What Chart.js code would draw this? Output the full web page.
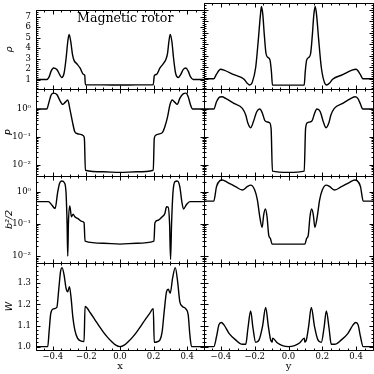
<!DOCTYPE html>
<html>
<head>
<meta charset="utf-8">
<script src="https://cdn.jsdelivr.net/npm/chart.js@4.4.1/dist/chart.umd.min.js"></script>
<style>
  html, body { margin: 0; padding: 0; background: #fff; }
  #fig { position: relative; width: 374px; height: 374px; overflow: hidden; }
  #fig canvas { position: absolute; left: 0; top: 0; }
  #title { position: absolute; left: 77px; top: 12px; font-family: "DejaVu Serif", serif; font-size: 12.6px; line-height: 12px; white-space: nowrap; color: #000; }
</style>
</head>
<body>
<div id="fig">
  <canvas id="c0" width="374" height="374"></canvas>
  <canvas id="c1" width="374" height="374"></canvas>
  <canvas id="c2" width="374" height="374"></canvas>
  <canvas id="c3" width="374" height="374"></canvas>
  <canvas id="c4" width="374" height="374"></canvas>
  <canvas id="c5" width="374" height="374"></canvas>
  <canvas id="c6" width="374" height="374"></canvas>
  <canvas id="c7" width="374" height="374"></canvas>
  <div id="title">Magnetic rotor</div>
</div>
<script>
/* 데이터: 각 패널 곡선 (위치 / 값) */
// rho along x
const rhoXPos = [-0.5, -0.436, -0.422, -0.41, -0.396, -0.376, -0.36, -0.347, -0.333, -0.321, -0.311, -0.303, -0.293, -0.283, -0.273, -0.257, -0.238, -0.218, -0.21, -0.206, -0.1, 0, 0.1, 0.198, 0.204, 0.218, 0.238, 0.257, 0.273, 0.283, 0.291, 0.299, 0.309, 0.319, 0.331, 0.347, 0.362, 0.376, 0.392, 0.406, 0.42, 0.436, 0.5];
const rhoXVal = [1.0, 1.0, 1.25, 1.8, 2.1, 1.95, 1.5, 1.2, 1.6, 3.0, 4.6, 5.3, 4.6, 3.4, 2.8, 2.5, 2.1, 1.5, 1.4, 0.5, 0.49, 0.48, 0.49, 0.5, 1.35, 1.5, 2.1, 2.5, 2.9, 3.5, 4.6, 5.3, 4.6, 3.0, 1.6, 1.2, 1.5, 1.95, 2.1, 1.8, 1.25, 1.0, 1.0];
// rho along y
const rhoYPos = [-0.5, -0.442, -0.426, -0.402, -0.382, -0.323, -0.263, -0.244, -0.23, -0.214, -0.194, -0.178, -0.166, -0.16, -0.152, -0.143, -0.133, -0.121, -0.109, -0.101, -0.095, 0, 0.093, 0.099, 0.107, 0.119, 0.131, 0.141, 0.15, 0.158, 0.166, 0.178, 0.194, 0.212, 0.226, 0.242, 0.261, 0.321, 0.376, 0.4, 0.424, 0.44, 0.5];
const rhoYVal = [1.0, 1.0, 1.4, 1.82, 1.75, 1.35, 0.95, 0.6, 0.45, 0.7, 2.0, 4.5, 6.6, 7.3, 6.6, 4.8, 3.2, 2.85, 2.6, 1.6, 0.45, 0.44, 0.45, 1.6, 2.6, 2.85, 3.2, 4.8, 6.6, 7.3, 6.6, 4.5, 2.0, 0.7, 0.45, 0.6, 0.95, 1.35, 1.75, 1.82, 1.4, 1.0, 1.0];
// P along x
const presXPos = [-0.5, -0.436, -0.422, -0.41, -0.396, -0.376, -0.356, -0.341, -0.327, -0.311, -0.297, -0.283, -0.269, -0.253, -0.234, -0.218, -0.212, -0.206, -0.1, 0, 0.1, 0.198, 0.204, 0.214, 0.234, 0.253, 0.267, 0.283, 0.297, 0.311, 0.327, 0.341, 0.356, 0.376, 0.392, 0.406, 0.42, 0.432, 0.5];
const presXVal = [1.0, 1.0, 1.83, 3.16, 3.7, 3.3, 1.93, 1.47, 1.73, 2.1, 0.92, 0.35, 0.155, 0.132, 0.125, 0.112, 0.09, 0.0066, 0.0058, 0.0055, 0.0058, 0.0066, 0.09, 0.118, 0.13, 0.147, 0.234, 0.53, 1.39, 2.1, 1.73, 1.47, 2.4, 3.5, 3.7, 2.75, 1.39, 1.0, 1.0];
// P along y
const presYPos = [-0.5, -0.442, -0.426, -0.406, -0.392, -0.372, -0.323, -0.273, -0.253, -0.24, -0.224, -0.208, -0.188, -0.17, -0.154, -0.141, -0.129, -0.113, -0.103, -0.095, 0, 0.093, 0.101, 0.113, 0.129, 0.141, 0.154, 0.168, 0.188, 0.206, 0.222, 0.238, 0.251, 0.271, 0.321, 0.37, 0.394, 0.41, 0.424, 0.44, 0.5];
const presYVal = [1.0, 1.0, 1.83, 2.7, 2.75, 2.4, 1.6, 1.06, 0.61, 0.31, 0.215, 0.35, 0.8, 1.0, 0.7, 0.4, 0.35, 0.33, 0.2, 0.0061, 0.0055, 0.0061, 0.2, 0.33, 0.35, 0.4, 0.7, 1.0, 0.8, 0.35, 0.215, 0.31, 0.61, 1.06, 1.6, 2.4, 2.75, 2.4, 1.6, 1.0, 1.0];
// b^2/2 along x
const magXPos = [-0.5, -0.426, -0.406, -0.386, -0.372, -0.36, -0.347, -0.331, -0.321, -0.315, -0.311, -0.307, -0.299, -0.289, -0.279, -0.269, -0.25, -0.228, -0.214, -0.208, -0.1, 0, 0.1, 0.202, 0.208, 0.228, 0.251, 0.267, 0.277, 0.287, 0.295, 0.301, 0.307, 0.315, 0.327, 0.341, 0.356, 0.368, 0.378, 0.396, 0.416, 0.5];
const magXVal = [0.49, 0.49, 0.385, 0.3, 0.89, 1.8, 2.14, 1.9, 0.89, 0.104, 0.01, 0.104, 0.36, 0.167, 0.2, 0.167, 0.145, 0.12, 0.109, 0.029, 0.025, 0.0236, 0.025, 0.029, 0.109, 0.13, 0.167, 0.21, 0.34, 0.33, 0.104, 0.0079, 0.104, 0.89, 2.05, 2.14, 1.43, 0.49, 0.29, 0.4, 0.49, 0.49];
// b^2/2 along y
const magYPos = [-0.5, -0.442, -0.426, -0.406, -0.392, -0.362, -0.313, -0.273, -0.244, -0.224, -0.2, -0.184, -0.17, -0.156, -0.147, -0.137, -0.127, -0.117, -0.107, -0.097, 0, 0.097, 0.107, 0.117, 0.127, 0.137, 0.147, 0.156, 0.17, 0.184, 0.2, 0.224, 0.244, 0.273, 0.313, 0.362, 0.392, 0.406, 0.426, 0.442, 0.5];
const magYVal = [0.51, 0.51, 1.43, 2.2, 2.3, 1.95, 1.43, 1.13, 1.43, 1.6, 1.13, 0.55, 0.167, 0.078, 0.188, 0.29, 0.167, 0.045, 0.035, 0.0236, 0.0236, 0.0236, 0.035, 0.045, 0.167, 0.29, 0.188, 0.078, 0.167, 0.55, 1.13, 1.6, 1.43, 1.13, 1.43, 1.95, 2.3, 2.2, 1.43, 0.51, 0.51];
// W along x
const lorXPos = [-0.5, -0.43, -0.422, -0.412, -0.396, -0.376, -0.364, -0.354, -0.345, -0.333, -0.321, -0.311, -0.301, -0.291, -0.281, -0.269, -0.253, -0.234, -0.214, -0.208, -0.175, -0.15, -0.125, -0.1, -0.075, -0.05, -0.025, 0, 0.025, 0.05, 0.075, 0.1, 0.125, 0.15, 0.175, 0.198, 0.204, 0.218, 0.238, 0.251, 0.263, 0.277, 0.287, 0.299, 0.313, 0.329, 0.343, 0.356, 0.372, 0.392, 0.406, 0.416, 0.426, 0.5];
const lorXVal = [1.0, 1.0, 1.071, 1.158, 1.179, 1.186, 1.276, 1.355, 1.374, 1.34, 1.276, 1.26, 1.284, 1.23, 1.142, 1.079, 1.04, 1.027, 1.024, 1.19, 1.158, 1.128, 1.098, 1.07, 1.045, 1.024, 1.007, 1.0, 1.007, 1.024, 1.045, 1.07, 1.098, 1.128, 1.155, 1.18, 1.02, 1.022, 1.032, 1.071, 1.166, 1.26, 1.272, 1.253, 1.324, 1.374, 1.308, 1.213, 1.19, 1.179, 1.15, 1.055, 1.0, 1.0];
// W along y
const lorYPos = [-0.5, -0.442, -0.426, -0.412, -0.398, -0.382, -0.352, -0.313, -0.273, -0.253, -0.24, -0.224, -0.21, -0.194, -0.174, -0.154, -0.135, -0.119, -0.105, -0.096, -0.094, -0.065, -0.036, 0, 0.036, 0.065, 0.094, 0.096, 0.105, 0.119, 0.135, 0.154, 0.174, 0.194, 0.21, 0.224, 0.24, 0.253, 0.273, 0.313, 0.352, 0.382, 0.398, 0.412, 0.426, 0.442, 0.5];
const lorYVal = [1.0, 1.0, 1.047, 1.103, 1.114, 1.103, 1.063, 1.032, 1.011, 1.011, 1.087, 1.169, 1.087, 1.02, 1.032, 1.095, 1.185, 1.095, 1.03, 1.022, 1.04, 1.017, 1.005, 1.0, 1.005, 1.017, 1.04, 1.022, 1.03, 1.095, 1.185, 1.095, 1.032, 1.02, 1.087, 1.169, 1.087, 1.011, 1.011, 1.032, 1.063, 1.103, 1.114, 1.103, 1.047, 1.0, 1.0];

/* 눈금 */
const xTicks = [-0.4, -0.2, 0, 0.2, 0.4];
const xTickLabels = ['\u22120.4', '\u22120.2', '0.0', '0.2', '0.4'];
const rhoTicks = [1, 2, 3, 4, 5, 6, 7];
const rhoTickLabels = ['1', '2', '3', '4', '5', '6', '7'];
const logTicks = [0.01, 0.1, 1];
const logTickLabels = ['10\u207B\u00B2', '10\u207B\u00B9', '10\u2070'];
const lorTicks = [1.0, 1.1, 1.2, 1.3];
const lorTickLabels = ['1.0', '1.1', '1.2', '1.3'];

/* 패널 배치 */
const COLS = [[36, 204], [204, 373]];
const ROWS = [[3, 89], [89, 176], [176, 263], [263, 350]];

const tickFont = { family: "'DejaVu Serif', serif", size: 8.5 };
const labelFont = { family: "'DejaVu Sans', sans-serif", size: 9.5, style: 'italic' };

function linMinor(min, max, step) {
    const out = [];
    for (let k = Math.ceil(min / step - 1e-9); k * step <= max + 1e-9; k++) out.push(+(k * step).toFixed(6));
    return out;
}
function logMinor(min, max) {
    const out = [];
    for (let e = -4; e <= 1; e++) {
        for (let m = 1; m <= 9; m++) {
            const v = m * Math.pow(10, e);
            if (v > min && v < max) out.push(v);
        }
    }
    return out;
}

// 안쪽 눈금 + 테두리
const frameTicks = {
    id: 'frameTicks',
    afterDatasetsDraw(chart) {
        const { ctx, chartArea: a, scales } = chart;
        const cfg = chart.options.plugins.frameTicks;
        const L = Math.round(a.left) + 0.5, R = Math.round(a.right) + 0.5;
        const T = Math.round(a.top) + 0.5, B = Math.round(a.bottom) + 0.5;
        ctx.save();
        ctx.strokeStyle = '#000';
        ctx.lineWidth = 1;
        ctx.beginPath();
        const vTick = (v, len) => {
            const p = Math.round(scales.x.getPixelForValue(v)) + 0.5;
            ctx.moveTo(p, T); ctx.lineTo(p, T + len);
            ctx.moveTo(p, B); ctx.lineTo(p, B - len);
        };
        const hTick = (v, len) => {
            const p = Math.round(scales.y.getPixelForValue(v)) + 0.5;
            ctx.moveTo(L, p); ctx.lineTo(L + len, p);
            ctx.moveTo(R, p); ctx.lineTo(R - len, p);
        };
        cfg.xMinor.forEach(v => vTick(v, 2));
        cfg.xMajor.forEach(v => vTick(v, 4));
        cfg.yMinor.forEach(v => hTick(v, 2));
        cfg.yMajor.forEach(v => hTick(v, 4));
        ctx.stroke();
        ctx.beginPath();
        ctx.rect(L, T, R - L, B - T);
        ctx.stroke();
        ctx.restore();
    }
};

function makePanel(canvasId, col, row, pos, val, axis) {
    const [left, right] = COLS[col];
    const [top, bottom] = ROWS[row];
    const isLeft = col === 0;
    const isBottom = row === 3;

    const yScale = {
        type: axis.type,
        min: axis.min,
        max: axis.max,
        display: isLeft,
        afterBuildTicks: s => { s.ticks = axis.ticks.map(v => ({ value: v })); },
        grid: { display: false, drawTicks: false },
        border: { display: false },
        ticks: { padding: 5, autoSkip: false, color: '#000', font: tickFont, callback: (v, i) => axis.labels[i] },
        title: { display: true, text: axis.title, color: '#000', font: labelFont, padding: { top: 4, bottom: 0 } }
    };
    if (isLeft) yScale.afterFit = s => { s.width = left; };

    const xScale = {
        type: 'linear',
        min: -0.5,
        max: 0.5,
        display: isBottom,
        afterBuildTicks: s => { s.ticks = xTicks.map(v => ({ value: v })); },
        grid: { display: false, drawTicks: false },
        border: { display: false },
        ticks: { padding: 2, autoSkip: false, maxRotation: 0, color: '#000', font: tickFont, callback: (v, i) => xTickLabels[i] },
        title: { display: true, text: isLeft ? 'x' : 'y', color: '#000', font: { family: "'DejaVu Serif', serif", size: 10 }, padding: { top: 0, bottom: 2 } }
    };
    if (isBottom) xScale.afterFit = s => { s.height = 24; };

    new Chart(document.getElementById(canvasId), {
        type: 'line',
        data: {
            datasets: [{
                data: pos.map((x, i) => ({ x: x, y: val[i] })),
                borderColor: '#000',
                borderWidth: 1.4,
                pointRadius: 0,
                fill: false,
                cubicInterpolationMode: 'monotone'
            }]
        },
        options: {
            responsive: false,
            animation: false,
            events: [],
            layout: {
                autoPadding: false,
                padding: {
                    left: isLeft ? 0 : left,
                    right: 374 - right,
                    top: top,
                    bottom: isBottom ? 374 - bottom - 24 : 374 - bottom
                }
            },
            scales: { x: xScale, y: yScale },
            plugins: {
                legend: { display: false },
                tooltip: { enabled: false },
                frameTicks: {
                    xMajor: xTicks,
                    xMinor: linMinor(-0.5, 0.5, 0.05),
                    yMajor: axis.ticks,
                    yMinor: axis.minor
                }
            }
        },
        plugins: [frameTicks]
    });
}

const rhoAxis = { type: 'linear', min: 0.1, max: 7.61, ticks: rhoTicks, labels: rhoTickLabels, minor: linMinor(0.1, 7.61, 0.2), title: '\u03C1' };
const presAxis = { type: 'logarithmic', min: 0.0041, max: 5.2, ticks: logTicks, labels: logTickLabels, minor: logMinor(0.0041, 5.2), title: 'P' };
const magAxis = { type: 'logarithmic', min: 0.0061, max: 3.07, ticks: logTicks, labels: logTickLabels, minor: logMinor(0.0061, 3.07), title: 'b\u00B2/2' };
const lorAxis = { type: 'linear', min: 0.984, max: 1.396, ticks: lorTicks, labels: lorTickLabels, minor: linMinor(0.984, 1.396, 0.02), title: 'W' };

makePanel('c0', 0, 0, rhoXPos, rhoXVal, rhoAxis);
makePanel('c1', 1, 0, rhoYPos, rhoYVal, rhoAxis);
makePanel('c2', 0, 1, presXPos, presXVal, presAxis);
makePanel('c3', 1, 1, presYPos, presYVal, presAxis);
makePanel('c4', 0, 2, magXPos, magXVal, magAxis);
makePanel('c5', 1, 2, magYPos, magYVal, magAxis);
makePanel('c6', 0, 3, lorXPos, lorXVal, lorAxis);
makePanel('c7', 1, 3, lorYPos, lorYVal, lorAxis);
</script>
</body>
</html>
